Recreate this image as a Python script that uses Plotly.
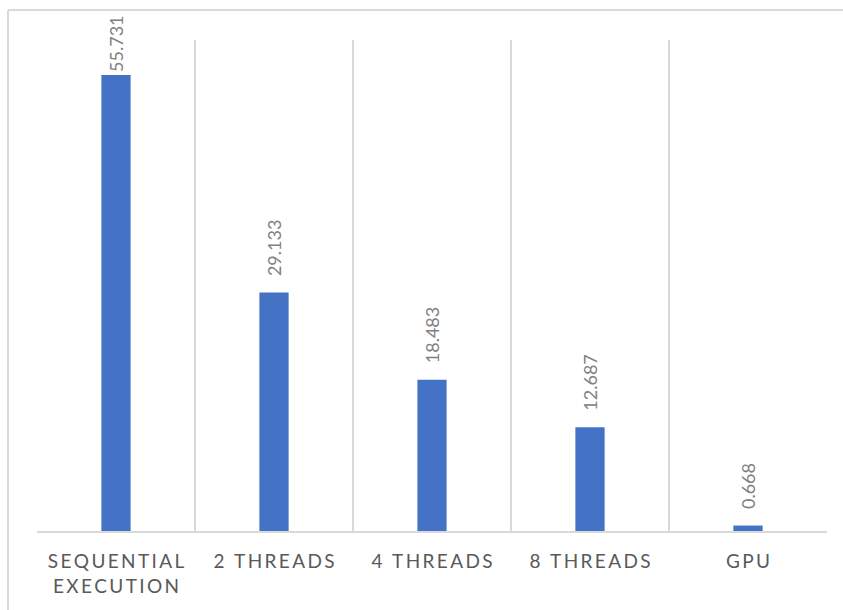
import plotly.graph_objects as go

categories = ["SEQUENTIAL<br>EXECUTION", "2 THREADS", "4 THREADS", "8 THREADS", "GPU"]
values = [55.731, 29.133, 18.483, 12.687, 0.668]
value_labels = ["55.731", "29.133", "18.483", "12.687", "0.668"]

Y_MAX = 60

def spaced(s):
    return "<br>".join("\u2009".join(list(line)) for line in s.split("<br>"))

tick_text = [spaced(c) for c in categories]
pad = "\u2002\u2005"
# labels that would run past the top of the chart are kept tight to the bar
bar_text = [(t if v / Y_MAX > 0.85 else pad + t) for t, v in zip(value_labels, values)]

W, H = 843, 610
L, R, T, B = 37, 16, 40, 79
pw, ph = W - L - R, H - T - B

def px(x):
    return (x - L) / pw

def py(y):
    return (H - B - y) / ph

fig = go.Figure()
fig.add_trace(go.Bar(
    x=categories, y=values, text=bar_text,
    textposition="outside", textangle=-90, cliponaxis=False,
    constraintext="none",
    textfont=dict(family="Lato", size=18, color="#808080"),
    marker=dict(color="#4472C4", line=dict(width=0)),
    width=0.185,
))

fig.update_layout(
    width=W, height=H,
    margin=dict(l=L, r=R, t=T, b=B),
    paper_bgcolor="white", plot_bgcolor="white",
    showlegend=False,
    xaxis=dict(
        type="category", tickson="boundaries",
        tickvals=categories, ticktext=tick_text,
        showgrid=True, gridcolor="#d9d9d9", gridwidth=2,
        showline=True, linecolor="#d9d9d9", linewidth=2,
        ticks="", ticklabelstandoff=12,
        tickfont=dict(family="Lato", size=19, color="#595959"),
        fixedrange=True,
    ),
    yaxis=dict(
        range=[0, Y_MAX], showgrid=False, zeroline=False,
        showticklabels=False, showline=False, ticks="",
        fixedrange=True,
    ),
    shapes=[
        dict(type="line", xref="paper", yref="paper",
             x0=px(8), x1=px(W + 5), y0=py(10), y1=py(10),
             line=dict(color="#d9d9d9", width=2)),
        dict(type="line", xref="paper", yref="paper",
             x0=px(8), x1=px(8), y0=py(10), y1=py(H + 5),
             line=dict(color="#d9d9d9", width=2)),
    ],
)

fig.write_html("out.html")
